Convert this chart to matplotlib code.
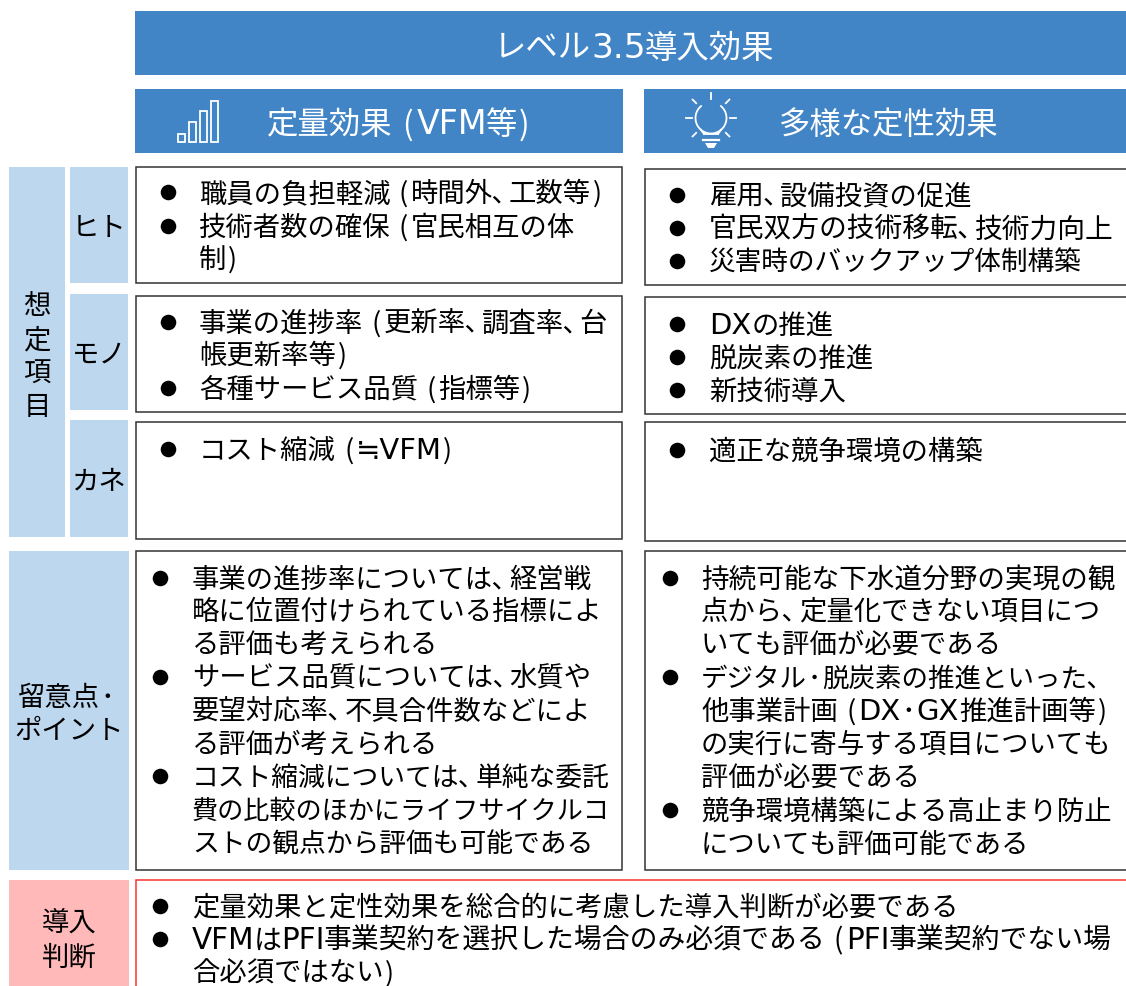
import re
import numpy as np
import matplotlib
matplotlib.use("Agg")
import matplotlib.pyplot as plt
from matplotlib.patches import Rectangle, Polygon
from matplotlib.textpath import TextPath
from matplotlib.font_manager import FontProperties

CJK = 'Noto Sans CJK JP'
LATIN = 'DejaVu Sans'
plt.rcParams['font.family'] = [CJK, 'DejaVu Sans']

# ---- content ----
title = "レベル3.5導入効果"
header_left = "定量効果(VFM等)"
header_right = "多様な定性効果"
side_main = ["想", "定", "項", "目"]
side_rows = ["ヒト", "モノ", "カネ"]
side_note = ["留意点・", "ポイント"]
side_judge = ["導入", "判断"]

hito_left = ["職員の負担軽減(時間外、工数等)", "技術者数の確保(官民相互の体", "制)"]
hito_left_b = [1, 1, 0]
hito_right = ["雇用、設備投資の促進", "官民双方の技術移転、技術力向上", "災害時のバックアップ体制構築"]
hito_right_b = [1, 1, 1]
mono_left = ["事業の進捗率(更新率、調査率、台", "帳更新率等)", "各種サービス品質(指標等)"]
mono_left_b = [1, 0, 1]
mono_right = ["DXの推進", "脱炭素の推進", "新技術導入"]
mono_right_b = [1, 1, 1]
kane_left = ["コスト縮減(≒VFM)"]
kane_left_b = [1]
kane_right = ["適正な競争環境の構築"]
kane_right_b = [1]
note_left = ["事業の進捗率については、経営戦", "略に位置付けられている指標によ", "る評価も考えられる",
             "サービス品質については、水質や", "要望対応率、不具合件数などによ", "る評価が考えられる",
             "コスト縮減については、単純な委託", "費の比較のほかにライフサイクルコ", "ストの観点から評価も可能である"]
note_left_b = [1, 0, 0, 1, 0, 0, 1, 0, 0]
note_right = ["持続可能な下水道分野の実現の観", "点から、定量化できない項目につ", "いても評価が必要である",
              "デジタル・脱炭素の推進といった、", "他事業計画(DX・GX推進計画等)", "の実行に寄与する項目についても", "評価が必要である",
              "競争環境構築による高止まり防止", "についても評価可能である"]
note_right_b = [1, 0, 0, 1, 0, 0, 0, 1, 0]
judge = ["定量効果と定性効果を総合的に考慮した導入判断が必要である",
         "VFMはPFI事業契約を選択した場合のみ必須である(PFI事業契約でない場",
         "合必須ではない)"]
judge_b = [1, 1, 0]

# ---- colours ----
BLUE = "#4285C6"
LIGHT = "#BDD7EE"
PINK = "#FFB9B9"

W, H = 1126, 986
fig = plt.figure(figsize=(W / 100, H / 100), dpi=100)
ax = fig.add_axes([0, 0, 1, 1])
ax.set_xlim(0, W)
ax.set_ylim(H, 0)
ax.axis("off")

BODY = 19.7
LATIN_SCALE = 1.06
TOKENS = re.compile(r"\(|\)|・|[ -'*-~≒]+|[^ -~・、≒]*、|[^ -~・、≒]+")
PAREN_ADV, COMMA_ADV, DOT_ADV = 0.75, 0.58, 0.55


def rect(x0, y0, x1, y1, face, edge="none", lw=0, z=1):
    ax.add_patch(Rectangle((x0, y0), x1 - x0, y1 - y0, facecolor=face,
                           edgecolor=edge, linewidth=lw, zorder=z, clip_on=True))


def latin_width(s, em):
    return TextPath((0, 0), s, size=em, prop=FontProperties(family=LATIN)).get_extents().x1 + em * 0.06


def runs(s, em):
    """Split a line into runs with the narrow punctuation spacing of the original face."""
    out = []
    x = 0.0
    for tok in TOKENS.findall(s):
        if tok == "(":
            out.append((x + 0.30 * em, "(", CJK))
            x += PAREN_ADV * em
        elif tok == ")":
            out.append((x + 0.06 * em, ")", CJK))
            x += PAREN_ADV * em
        elif tok == "・":
            out.append((x + 0.02 * em, "･", CJK))
            x += DOT_ADV * em
        elif ord(tok[0]) < 128 or tok[0] == "≒":
            out.append((x, tok, LATIN))
            x += latin_width(tok, em * LATIN_SCALE)
        elif tok.endswith("、"):
            out.append((x, tok[:-1] + "､", CJK))
            x += (len(tok) - 1 + COMMA_ADV) * em
        else:
            out.append((x, tok, CJK))
            x += len(tok) * em
    return out, x


def label(x, yc, s, size=BODY, color="black", ha="left"):
    em = size * 100 / 72
    parts, width = runs(s, em)
    x0 = x - width / 2 if ha == "center" else x
    for dx, part, fam in parts:
        fs = size * LATIN_SCALE if fam == LATIN else size
        ax.text(x0 + dx, yc + size * 0.50, part, fontsize=fs, color=color, ha="left",
                va="baseline", zorder=5, family=fam, clip_on=False)


def block(lines, flags, ys, xtext, xbullet, fit=None):
    fit = fit or [1.0] * len(lines)
    for s, f, y, k in zip(lines, flags, ys, fit):
        label(xtext, y, s, size=BODY * k)
        if f:
            ax.plot([xbullet], [y], "o", ms=11.2, color="black", mew=0, zorder=5)


# headers
rect(135, 11, 1126, 75, BLUE)
rect(135, 89, 623, 153, BLUE)
rect(644, 89, 1126, 153, BLUE)
label(634, 46, title, size=23.3, color="white", ha="center")
label(404, 123, header_left, size=22.6, color="white", ha="center")
label(889, 123, header_right, size=22.6, color="white", ha="center")

# bar icon
ILW = 1.3
for x0, y0 in zip((178, 189, 200, 211), (134, 122, 111, 101)):
    ax.add_patch(Rectangle((x0, y0), 6.5, 142 - y0, fill=False, edgecolor="white", lw=ILW, zorder=5))

# bulb icon
cx, cy, r = 711, 118, 15.5
t = np.radians(np.linspace(130, 410, 60))
ax.plot(cx + r * np.cos(t), cy - r * np.sin(t), color="white", lw=ILW, zorder=5)
ax.plot([cx - 7, cx + 7], [134, 134], color="white", lw=ILW, zorder=5)
side = r * np.cos(np.radians(50))
low = cy + r * np.sin(np.radians(50))
ax.plot([cx - side, cx - 7], [low, 134], color="white", lw=ILW, zorder=5)
ax.plot([cx + side, cx + 7], [low, 134], color="white", lw=ILW, zorder=5)
for a in (0, 45, 90, 135, 180, 225, 315):
    ca, sa = np.cos(np.radians(a)), np.sin(np.radians(a))
    r0, r1 = (21, 26) if a % 90 else (19, 25)
    ax.plot([cx + r0 * ca, cx + r1 * ca], [cy - r0 * sa, cy - r1 * sa], color="white", lw=ILW, zorder=5)
ax.plot([cx - 8, cx + 8], [139.5, 139.5], color="white", lw=1.6, zorder=5)
ax.add_patch(Polygon([(cx - 6, 143), (cx + 6, 143), (cx + 3, 148), (cx - 3, 148)], facecolor="white", edgecolor="none", zorder=5))

# side cells
rect(9, 167, 65, 537, LIGHT)
rect(70, 167, 128, 283, LIGHT)
rect(70, 294, 128, 410, LIGHT)
rect(70, 420, 128, 537, LIGHT)
rect(9, 551, 129, 870, LIGHT)
rect(9, 880, 129, 990, PINK)
for s, y in zip(side_main, (304, 339, 372, 405)):
    label(37, y, s, ha="center")
for s, y in zip(side_rows, (226, 353, 480)):
    label(99, y, s, ha="center")
label(18, 696, side_note[0])
label(69, 729, side_note[1], ha="center")
for s, y in zip(side_judge, (921, 956)):
    label(69, y, s, ha="center")

# content boxes
EDGE = "#333333"
for x0, y0, x1, y1 in ((136, 167, 622, 283), (136, 296, 622, 412), (136, 422, 622, 539),
                       (645, 169, 1130, 285), (645, 297, 1130, 414), (645, 422, 1130, 541),
                       (136, 551, 622, 870), (645, 551, 1130, 870)):
    rect(x0, y0, x1, y1, "white", EDGE, 1.1, z=2)
rect(136, 880, 1130, 992, "white", "#FF3030", 1.1, z=2)

# text blocks
block(hito_left, hito_left_b, (192, 226, 258), 199, 168)
block(hito_right, hito_right_b, (195, 228, 261), 709, 677, fit=(1, 1.015, 0.975))
block(mono_left, mono_left_b, (322, 354, 388), 199, 168)
block(mono_right, mono_right_b, (324, 357, 390), 709, 677)
block(kane_left, kane_left_b, (449,), 199, 168)
block(kane_right, kane_right_b, (450,), 709, 677)
block(note_left, note_left_b, (578, 610, 643, 677, 710, 743, 776, 809, 843), 192, 160,
      fit=(1, 1, 1, 1, 1, 1, 0.98, 0.955, 0.98))
block(note_right, note_right_b, (578, 610, 643, 677, 710, 743, 776, 810, 843), 701, 670,
      fit=(1.01, 1, 1, 0.97, 1, 1, 1, 1, 1))
block(judge, judge_b, (906, 939, 972), 192, 160, fit=(1, 1.018, 1))

fig.savefig("out.png", dpi=100)
